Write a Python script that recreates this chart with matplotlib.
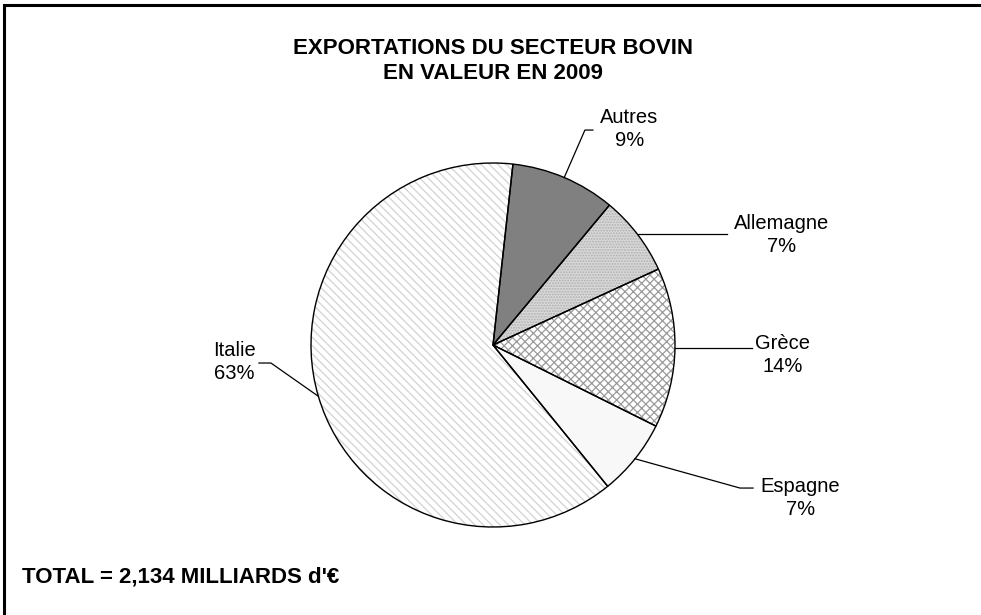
"""
Camembert des exportations du secteur bovin en valeur (2009).
"""

import numpy as np
import matplotlib
matplotlib.use("Agg")
import matplotlib.pyplot as plt
from matplotlib.patches import Rectangle

# Donnees (parts en %), dans l'ordre de trace (sens horaire depuis le haut)
pays = ["Autres", "Allemagne", "Grèce", "Espagne", "Italie"]
parts = [9.3, 7.1, 14.2, 6.8, 62.6]
etiquettes = ["9%", "7%", "14%", "7%", "63%"]

titre = "EXPORTATIONS DU SECTEUR BOVIN\nEN VALEUR EN 2009"
total = "TOTAL = 2,134 MILLIARDS d'€"

# Styles des parts
fonds = ["#808080", "#d8d8d8", "white", "#f8f8f8", "white"]
motifs = [None, "......", "xxxx", None, "\\\\\\\\"]
couleurs_motif = ["#808080", "#b0b0b0", "#9a9a9a", "#f8f8f8", "#d2d2d2"]

# Position des etiquettes (coordonnees du camembert, rayon = 1)
pos_etiquettes = [(0.75, 1.187), (1.585, 0.604), (1.593, -0.055),
                  (1.69, -0.841), (-1.423, -0.093)]
# coudes des lignes de rappel (point intermediaire, point final)
coudes = [[(0.505, 1.181), (0.549, 1.181)],
          [None, (1.286, None)],
          [None, (1.423, None)],
          [(1.357, -0.786), (1.429, -0.786)],
          [(-1.220, -0.099), (-1.286, -0.099)]]

plt.rcParams["font.family"] = ["Liberation Sans", "DejaVu Sans"]
plt.rcParams["hatch.linewidth"] = 0.9

fig = plt.figure(figsize=(9.81, 6.15), dpi=100)
W, H = 981, 615
cx, cy, r = 493, 345, 182
ax = fig.add_axes([(cx - r) / W, (H - cy - r) / H, 2 * r / W, 2 * r / H])

# Couche 1 : remplissage + motifs (couleur du motif = couleur de bord)
wedges, _ = ax.pie(parts, startangle=83.7, counterclock=False,
                   colors=fonds, radius=1)
for w, m, c in zip(wedges, motifs, couleurs_motif):
    w.set_hatch(m)
    w.set_edgecolor(c)
    w.set_linewidth(0)

# Couche 2 : contours noirs
ax.pie(parts, startangle=83.7, counterclock=False, radius=1,
       wedgeprops={"fill": False, "edgecolor": "black", "linewidth": 1.0})

ax.set_xlim(-1, 1)
ax.set_ylim(-1, 1)
ax.axis("off")

# Etiquettes + lignes de rappel
for w, nom, pct, pos, cd in zip(wedges, pays, etiquettes, pos_etiquettes, coudes):
    ang = np.deg2rad((w.theta1 + w.theta2) / 2)
    x0, y0 = np.cos(ang), np.sin(ang)
    pts = [(x0, y0)]
    if cd[0] is not None:
        pts.append(cd[0])
        pts.append(cd[1])
    else:
        pts.append((cd[1][0], y0))
    xs, ys = zip(*pts)
    ax.plot(xs, ys, color="black", linewidth=0.9, clip_on=False)
    ax.text(pos[0], pos[1], nom + "\n" + pct, ha="center", va="center",
            fontsize=14.5, linespacing=1.22, clip_on=False)

# Titre et total
fig.text(cx / W, 1 - 61 / H, titre, ha="center", va="center",
         fontsize=16, fontweight="bold", linespacing=1.22)
fig.text(22 / W, 1 - 577 / H, total, ha="left", va="center",
         fontsize=16, fontweight="bold")

# Cadre (seuls les bords haut et gauche sont visibles)
fig.patches.append(Rectangle((4 / W, -0.1), 1.2, 1.1 - 5 / H,
                             transform=fig.transFigure, fill=False,
                             edgecolor="black", linewidth=2.2))

plt.savefig("out.png", dpi=100)
